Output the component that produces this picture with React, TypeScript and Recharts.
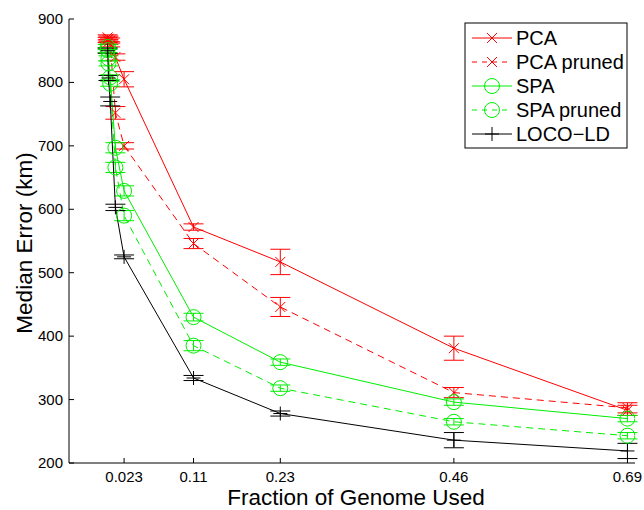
import React from "react";
import { Customized, ErrorBar, Line, LineChart, XAxis, YAxis } from "recharts";

// fraction of genome used at each measured point
const FRACTIONS = [0.0012, 0.0023, 0.0046, 0.0115, 0.023, 0.115, 0.23, 0.46, 0.69];

const PCA = [871, 869, 866, 840, 805, 572, 517, 381, 283];
const PCA_ERR = [4, 4, 4, 5, 12, 5, 20, 19, 8];
const PCA_PRUNED = [867, 864, 860, 752, 700, 546, 446, 311, 287];
const PCA_PRUNED_ERR = [4, 4, 4, 10, 5, 8, 15, 8, 8];
const SPA = [856, 838, 808, 697, 629, 430, 359, 296, 270];
const SPA_ERR = [4, 4, 4, 8, 8, 6, 5, 5, 5];
const SPA_PRUNED = [851, 830, 798, 666, 590, 385, 318, 265, 243];
const SPA_PRUNED_ERR = [4, 4, 4, 8, 8, 8, 5, 5, 5];
const LOCO_LD = [850, 807, 770, 603, 525, 334, 278, 236, 219];
const LOCO_LD_ERR = [4, 4, 7, 5, 3, 4, 4, 12, 12];

const X_TICKS = [0.023, 0.115, 0.23, 0.46, 0.69];
const X_TICK_LABELS = ["0.023", "0.11", "0.23", "0.46", "0.69"];
const Y_TICKS = [200, 300, 400, 500, 600, 700, 800, 900];

type MarkerKind = "x" | "o" | "+";

interface SeriesDef {
  key: string;
  label: string;
  color: string;
  dashed: boolean;
  marker: MarkerKind;
}

const SERIES: SeriesDef[] = [
  { key: "pca", label: "PCA", color: "#ff0000", dashed: false, marker: "x" },
  { key: "pcaPruned", label: "PCA pruned", color: "#ff0000", dashed: true, marker: "x" },
  { key: "spa", label: "SPA", color: "#00ee00", dashed: false, marker: "o" },
  { key: "spaPruned", label: "SPA pruned", color: "#00ee00", dashed: true, marker: "o" },
  { key: "loco", label: "LOCO\u2212LD", color: "#000000", dashed: false, marker: "+" },
];

const data = FRACTIONS.map((fraction, i) => ({
  fraction,
  pca: PCA[i],
  pcaErr: PCA_ERR[i],
  pcaPruned: PCA_PRUNED[i],
  pcaPrunedErr: PCA_PRUNED_ERR[i],
  spa: SPA[i],
  spaErr: SPA_ERR[i],
  spaPruned: SPA_PRUNED[i],
  spaPrunedErr: SPA_PRUNED_ERR[i],
  loco: LOCO_LD[i],
  locoErr: LOCO_LD_ERR[i],
}));

const FONT = "'Liberation Sans', Arial, Helvetica, sans-serif";
const DASH = "7 5";

function Marker({ kind, cx, cy, color }: { kind: MarkerKind; cx: number; cy: number; color: string }) {
  if (kind === "x") {
    return (
      <g stroke={color} strokeWidth={1}>
        <line x1={cx - 5} y1={cy - 5} x2={cx + 5} y2={cy + 5} />
        <line x1={cx - 5} y1={cy + 5} x2={cx + 5} y2={cy - 5} />
      </g>
    );
  }
  if (kind === "o") {
    return <circle cx={cx} cy={cy} r={7.5} fill="none" stroke={color} strokeWidth={1} />;
  }
  return (
    <g stroke={color} strokeWidth={1}>
      <line x1={cx - 7} y1={cy} x2={cx + 7} y2={cy} />
      <line x1={cx} y1={cy - 7} x2={cx} y2={cy + 7} />
    </g>
  );
}

function XTick(props: any) {
  const { x, y, payload } = props;
  const idx = X_TICKS.indexOf(payload.value);
  return (
    <g>
      <line x1={x} x2={x} y1={y} y2={y - 5} stroke="#000" />
      <text x={x} y={y + 19} textAnchor="middle" fontSize={15} fill="#000" fontFamily={FONT}>
        {X_TICK_LABELS[idx]}
      </text>
    </g>
  );
}

function YTick(props: any) {
  const { x, y, payload } = props;
  return (
    <g>
      <line x1={x} x2={x + 5} y1={y} y2={y} stroke="#000" />
      <text x={x - 6} y={y + 5} textAnchor="end" fontSize={15} fill="#000" fontFamily={FONT}>
        {payload.value}
      </text>
    </g>
  );
}

function Overlay() {
  const boxX = 465;
  const boxY = 23;
  return (
    <g fontFamily={FONT}>
      <text x={356} y={505} textAnchor="middle" fontSize={22.5} fill="#000">
        Fraction of Genome Used
      </text>
      <text
        x={0}
        y={0}
        transform="translate(32 243) rotate(-90)"
        textAnchor="middle"
        fontSize={22.5}
        fill="#000"
      >
        Median Error (km)
      </text>
      <rect x={boxX} y={boxY} width={162} height={125} fill="#fff" stroke="#000" strokeWidth={1} />
      {SERIES.map((s, i) => {
        const cy = 38 + i * 24;
        return (
          <g key={s.key}>
            <line
              x1={472}
              x2={512}
              y1={cy}
              y2={cy}
              stroke={s.color}
              strokeDasharray={s.dashed ? "5 5" : undefined}
            />
            <Marker kind={s.marker} cx={492} cy={cy} color={s.color} />
            <text x={516} y={cy + 7} fontSize={20} fill="#000">
              {s.label}
            </text>
          </g>
        );
      })}
    </g>
  );
}

export default function App() {
  return (
    <div style={{ position: "absolute", left: 0, top: 0, background: "#fff" }}>
      <LineChart
        width={644}
        height={510}
        data={data}
        margin={{ top: 19, right: 9, bottom: 0, left: 0 }}
        style={{ fontFamily: FONT, background: "#fff" }}
      >
        <XAxis
          dataKey="fraction"
          type="number"
          domain={[-0.05, 0.7]}
          ticks={X_TICKS}
          interval={0}
          allowDataOverflow
          height={47}
          tickSize={0}
          tickMargin={0}
          tickLine={false}
          axisLine={{ stroke: "#000" }}
          tick={<XTick />}
        />
        <YAxis
          type="number"
          domain={[200, 900]}
          ticks={Y_TICKS}
          interval={0}
          allowDataOverflow
          width={69}
          tickSize={0}
          tickMargin={0}
          tickLine={false}
          axisLine={{ stroke: "#000" }}
          tick={<YTick />}
        />
        {SERIES.map((s) => (
          <Line
            key={s.key}
            dataKey={s.key}
            name={s.label}
            stroke={s.color}
            strokeWidth={1}
            strokeDasharray={s.dashed ? DASH : undefined}
            type="linear"
            isAnimationActive={false}
            dot={(p: any) => (
              <Marker key={`${s.key}-${p.index}`} kind={s.marker} cx={p.cx} cy={p.cy} color={s.color} />
            )}
            activeDot={false}
          >
            <ErrorBar
              dataKey={`${s.key}Err`}
              direction="y"
              width={10}
              stroke={s.color}
              strokeWidth={1}
              isAnimationActive={false}
            />
          </Line>
        ))}
        <Customized component={<Overlay />} />
      </LineChart>
    </div>
  );
}
